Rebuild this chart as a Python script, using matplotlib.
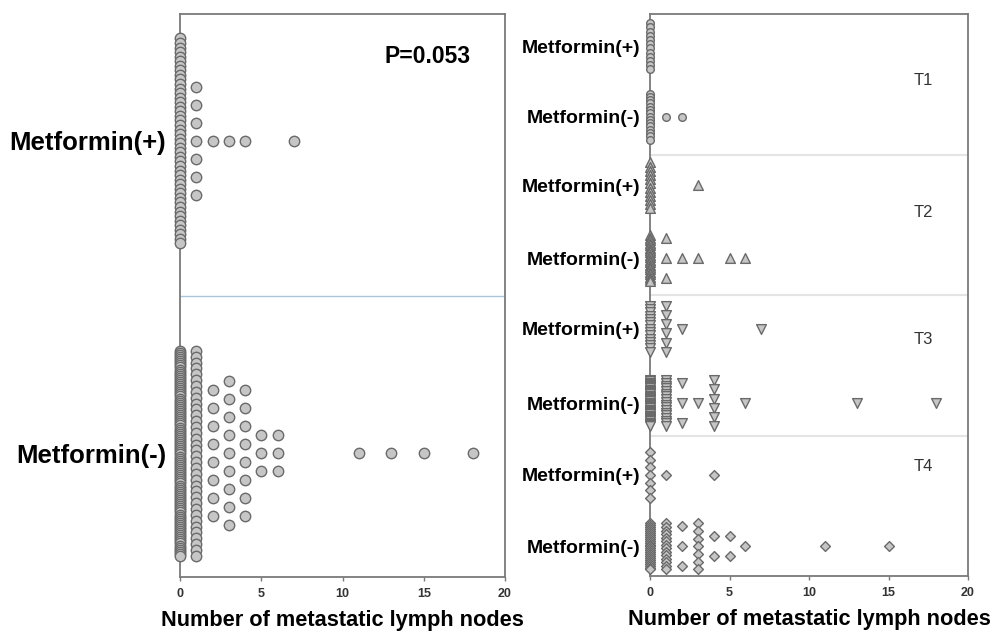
import numpy as np
import matplotlib.pyplot as plt

plt.rcParams['font.family'] = ['Liberation Sans', 'DejaVu Sans']

# values on the x axis (number of metastatic lymph nodes)
values = [0, 1, 2, 3, 4, 5, 6, 7, 11, 13, 15, 18]

# left panel: counts per value
left_plus = [46, 7, 1, 1, 1, 0, 0, 1, 0, 0, 0, 0]
left_minus = [100, 36, 8, 9, 8, 3, 3, 0, 1, 1, 1, 1]

# right panel: counts per value, by T stage
t1_plus = [12, 0, 0, 0, 0, 0, 0, 0, 0, 0, 0, 0]
t1_minus = [15, 1, 1, 0, 0, 0, 0, 0, 0, 0, 0, 0]
t2_plus = [12, 0, 0, 1, 0, 0, 0, 0, 0, 0, 0, 0]
t2_minus = [20, 3, 1, 1, 0, 1, 1, 0, 0, 0, 0, 0]
t3_plus = [15, 6, 1, 0, 0, 0, 0, 1, 0, 0, 0, 0]
t3_minus = [40, 18, 3, 1, 6, 0, 1, 0, 0, 1, 0, 1]
t4_plus = [7, 1, 0, 0, 1, 0, 0, 0, 0, 0, 0, 0]
t4_minus = [25, 14, 3, 7, 2, 2, 1, 0, 1, 0, 1, 0]

stages = ['T1', 'T2', 'T3', 'T4']
row_labels = ['Metformin(+)', 'Metformin(-)']
p_text = 'P=0.053'
xlabel = 'Number of metastatic lymph nodes'

FACE = '#c6c6c6'
EDGE = '#6a6a6a'
SPINE = '#7a7a7a'


def dot_column(ax, counts, center, px_per_unit, base_px, cap_px, marker, size):
    xs, ys = [], []
    for v, n in zip(values, counts):
        if n == 0:
            continue
        step = base_px if n == 1 else min(base_px, cap_px / (n - 1))
        offs = (np.arange(n) - (n - 1) / 2) * step / px_per_unit
        xs += [v] * n
        ys += list(center - offs)
    ax.scatter(xs, ys, marker=marker, s=size ** 2, facecolor=FACE,
               edgecolor=EDGE, linewidth=1.0, zorder=3, clip_on=False)


def style_axes(ax):
    for sp in ax.spines.values():
        sp.set_color(SPINE)
        sp.set_linewidth(1.3)
    ax.set_xlim(0, 20)
    ax.set_xticks([0, 5, 10, 15, 20])
    ax.tick_params(axis='x', length=3, width=1, color=SPINE, pad=5,
                   labelsize=9, labelcolor='#333333')
    for t in ax.get_xticklabels():
        t.set_fontweight('bold')
    ax.tick_params(axis='y', length=0)
    ax.set_xlabel(xlabel, fontsize=15.7, fontweight='bold', labelpad=7)


fig = plt.figure(figsize=(9.97, 6.35), dpi=100)

# ---- left panel
ax1 = fig.add_axes([180 / 997, 58 / 635, 325 / 997, 563 / 635])
ax1.set_ylim(0, 2)
px1 = 563 / 2
plus_c, minus_c = 1.549, 0.439
dot_column(ax1, left_plus, plus_c, px1, 18, 205, 'o', 7.5)
dot_column(ax1, left_minus, minus_c, px1, 18, 205, 'o', 7.5)
ax1.axhline(1, color='#a9c6dd', lw=1, zorder=1)
style_axes(ax1)
ax1.set_yticks([plus_c, minus_c])
ax1.set_yticklabels(row_labels, fontsize=18.5, fontweight='bold')
ax1.tick_params(axis='y', pad=10)
ax1.text(0.763, 0.924, p_text, transform=ax1.transAxes, fontsize=16.5,
         fontweight='bold', ha='center', va='center')

# ---- right panel
ax2 = fig.add_axes([650 / 997, 59 / 635, 318 / 997, 562 / 635])
ax2.set_ylim(0, 4)
px2 = 562 / 4
right_rows = [
    (t1_plus, t1_minus, 3.77, 3.27, 'o', 5.5),
    (t2_plus, t2_minus, 2.78, 2.26, '^', 7.0),
    (t3_plus, t3_minus, 1.76, 1.23, 'v', 7.0),
    (t4_plus, t4_minus, 0.72, 0.21, 'D', 5.0),
]
ticks, labels = [], []
for plus, minus, yp, ym, mk, sz in right_rows:
    dot_column(ax2, plus, yp, px2, 20, 46, mk, sz)
    dot_column(ax2, minus, ym, px2, 20, 46, mk, sz)
    ticks += [yp, ym]
    labels += row_labels
for y in [1, 2, 3]:
    ax2.axhline(y, color='#e4e4e4', lw=1.5, zorder=1)
style_axes(ax2)
ax2.set_yticks(ticks)
ax2.set_yticklabels(labels, fontsize=14, fontweight='bold')
ax2.tick_params(axis='y', pad=7)

stage_y = [3.53, 2.59, 1.68, 0.776]
for name, y in zip(stages, stage_y):
    ax2.text(17.2, y, name, fontsize=12, color='#333333', ha='center', va='center')

fig.savefig('out.png', dpi=100)
